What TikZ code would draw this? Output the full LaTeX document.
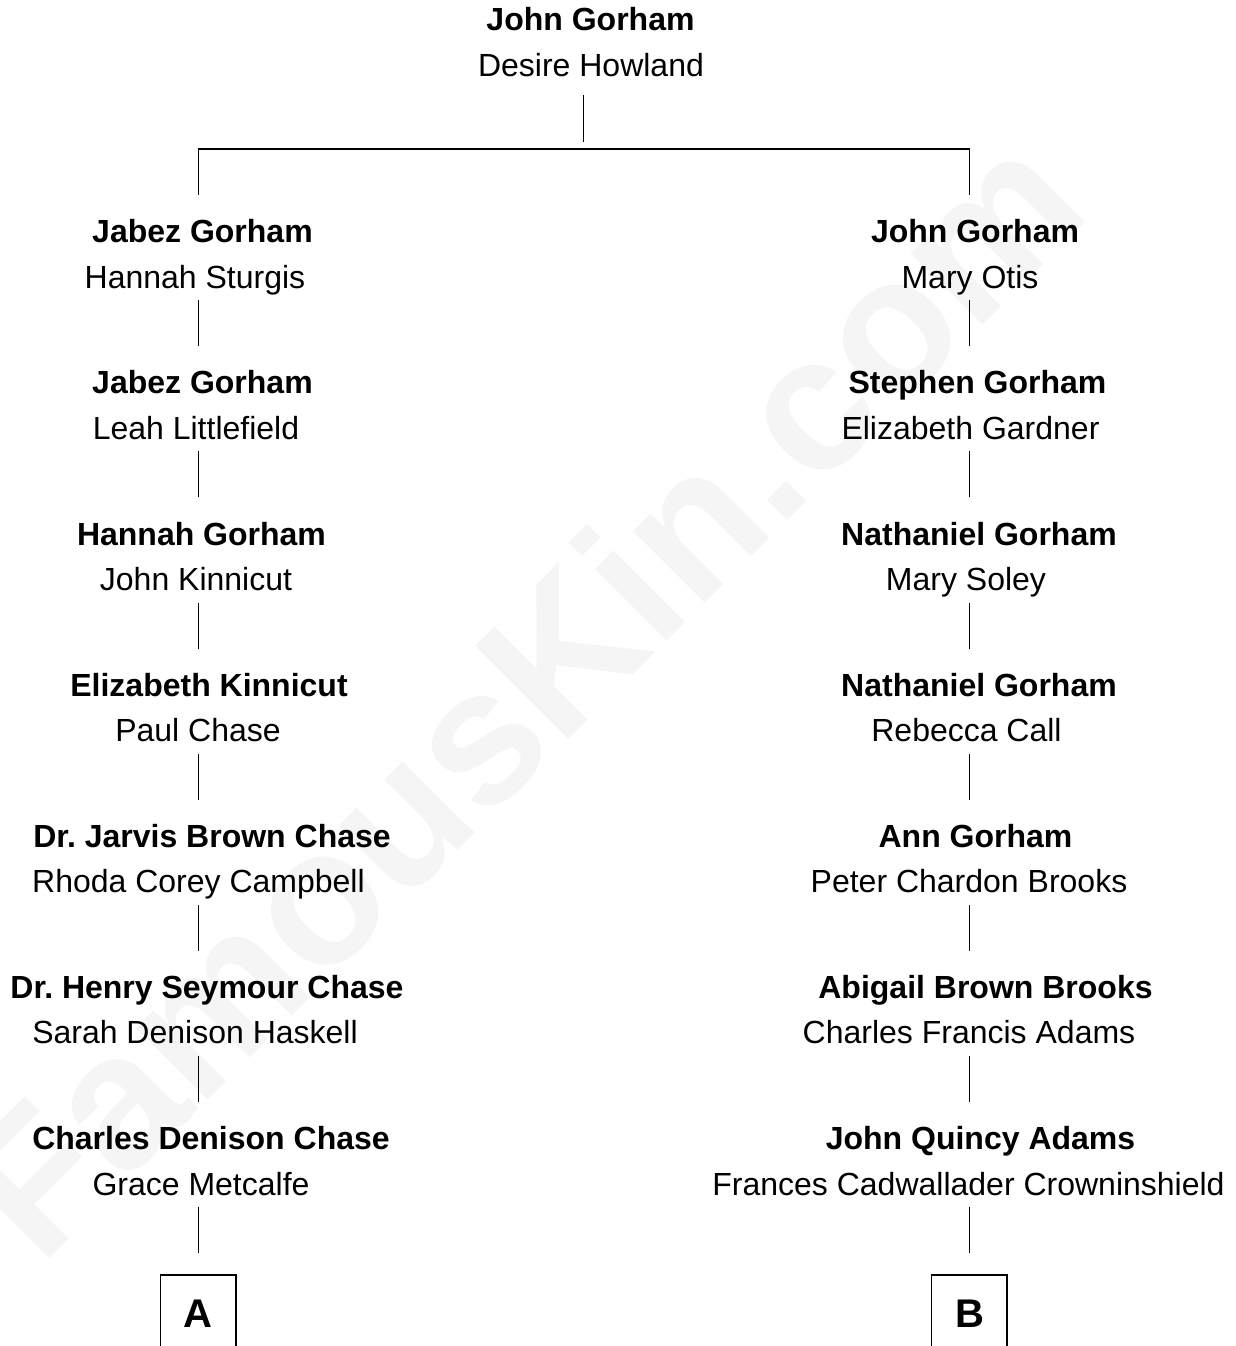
\documentclass[tikz,border=0pt]{standalone}
\usepackage{fontspec}
\setmainfont{Liberation Sans}
\frenchspacing
\definecolor{wm}{HTML}{F5F5F5}
\tikzset{
  bname/.style={anchor=base,inner sep=0pt,font=\fontsize{32}{38}\selectfont\bfseries,text=black},
  sname/.style={anchor=base,inner sep=0pt,font=\fontsize{32}{38}\selectfont,text=black},
  link/.style={draw=black,line width=1.4pt},
  letterbox/.style={anchor=base,inner sep=0pt,font=\fontsize{40}{46}\selectfont\bfseries},
  wmark/.style={anchor=base,inner sep=0pt,text=wm,rotate=45,font=\fontsize{191.5}{200}\selectfont\bfseries}
}
\begin{document}
\begin{tikzpicture}[x=1pt,y=-1pt]
\useasboundingbox (0,0) rectangle (1236,1346);
\node[wmark] (watermark) at (567.5,740.5) {FamousKin.com};

\node[bname] (r1) at (590.5,31) {John Gorham};
\node[sname] (r2) at (591,76) {Desire Howland};

\node[bname] (a1) at (202.5,242) {Jabez Gorham};
\node[sname] (a1s) at (195,288) {Hannah Sturgis};
\node[bname] (a2) at (202.5,393) {Jabez Gorham};
\node[sname] (a2s) at (196,439) {Leah Littlefield};
\node[bname] (a3) at (201.5,545) {Hannah Gorham};
\node[sname] (a3s) at (196,590) {John Kinnicut};
\node[bname] (a4) at (209,696) {Elizabeth Kinnicut};
\node[sname] (a4s) at (198,741) {Paul Chase};
\node[bname] (a5) at (212,847) {Dr. Jarvis Brown Chase};
\node[sname] (a5s) at (198.5,892) {Rhoda Corey Campbell};
\node[bname] (a6) at (207,998) {Dr. Henry Seymour Chase};
\node[sname] (a6s) at (195,1043) {Sarah Denison Haskell};
\node[bname] (a7) at (211,1149) {Charles Denison Chase};
\node[sname] (a7s) at (201,1195) {Grace Metcalfe};

\node[bname] (b1) at (975,242) {John Gorham};
\node[sname] (b1s) at (970,288) {Mary Otis};
\node[bname] (b2) at (977.5,393) {Stephen Gorham};
\node[sname] (b2s) at (970.5,439) {Elizabeth Gardner};
\node[bname] (b3) at (979,545) {Nathaniel Gorham};
\node[sname] (b3s) at (966,590) {Mary Soley};
\node[bname] (b4) at (979,696) {Nathaniel Gorham};
\node[sname] (b4s) at (966.5,741) {Rebecca Call};
\node[bname] (b5) at (975.5,847) {Ann Gorham};
\node[sname] (b5s) at (969,892) {Peter Chardon Brooks};
\node[bname] (b6) at (985.5,998) {Abigail Brown Brooks};
\node[sname] (b6s) at (969,1043) {Charles Francis Adams};
\node[bname] (b7) at (980.5,1149) {John Quincy Adams};
\node[sname] (b7s) at (968.5,1195) {Frances Cadwallader Crowninshield};

\node[letterbox] (la) at (198,1327) {A};
\node[letterbox] (lb) at (969.5,1327) {B};

% top stem and bracket
\coordinate (topA) at (583.5,95);
\coordinate (topB) at (583.5,142);
\coordinate (barL) at (198.5,195);
\coordinate (barLc) at (198.5,149);
\coordinate (barRc) at (969.5,149);
\coordinate (barR) at (969.5,195);
\draw[link] (topA) -- (topB);
\draw[link] (barL) -- (barLc) -- (barRc) -- (barR);

% descent stems
\foreach \n/\top in {1/300,2/451,3/603,4/754,5/905,6/1056,7/1207}{
  \pgfmathsetmacro{\bot}{\top+46}
  \coordinate (sa\n) at (198.5,\top);
  \coordinate (ea\n) at (198.5,\bot);
  \coordinate (sb\n) at (969.5,\top);
  \coordinate (eb\n) at (969.5,\bot);
  \draw[link] (sa\n) -- (ea\n);
  \draw[link] (sb\n) -- (eb\n);
}

% open-bottomed boxes
\coordinate (ax1) at (160.5,1346);
\coordinate (ax2) at (160.5,1275);
\coordinate (ax3) at (236,1275);
\coordinate (ax4) at (236,1346);
\coordinate (bx1) at (931.5,1346);
\coordinate (bx2) at (931.5,1275);
\coordinate (bx3) at (1007,1275);
\coordinate (bx4) at (1007,1346);
\draw[link] (ax1) -- (ax2) -- (ax3) -- (ax4);
\draw[link] (bx1) -- (bx2) -- (bx3) -- (bx4);
\end{tikzpicture}
\end{document}
